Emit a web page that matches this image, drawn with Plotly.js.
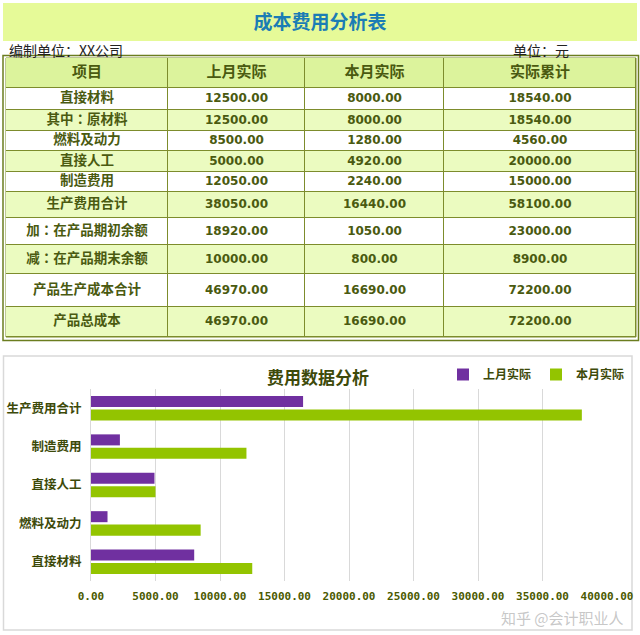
<!DOCTYPE html>
<html><head><meta charset="utf-8">
<script src="https://cdn.plot.ly/plotly-3.0.1.min.js"></script>
<style>html,body{margin:0;padding:0;background:#fff}</style>
</head><body><div id="chart" style="width:640px;height:635px"></div>
<script>
// ---------- data ----------
const tableTitle = '成本费用分析表';
const preparedBy = '编制单位：XX公司';
const unitLabel = '单位：元';
const headers = ['项目', '上月实际', '本月实际', '实际累计'];
const items = ['直接材料', '其中：原材料', '燃料及动力', '直接人工', '制造费用', '生产费用合计',
  '加：在产品期初余额', '减：在产品期末余额', '产品生产成本合计', '产品总成本'];
const lastMonth = [12500, 12500, 8500, 5000, 12050, 38050, 18920, 10000, 46970, 46970];
const thisMonth = [8000, 8000, 1280, 4920, 2240, 16440, 1050, 800, 16690, 16690];
const cumulative = [18540, 18540, 4560, 20000, 15000, 58100, 23000, 8900, 72200, 72200];

const chartTitle = '费用数据分析';
const chartItems = ['直接材料', '燃料及动力', '直接人工', '制造费用', '生产费用合计'];
const seriesNames = ['上月实际', '本月实际'];
const xTicks = [0, 5000, 10000, 15000, 20000, 25000, 30000, 35000, 40000];
const watermark = '知乎 @会计职业人';

// ---------- layout helpers ----------
const W = 640, H = 635;
const px = x => x / W;
const py = y => 1 - y / H;
const rowEdges = [58, 88, 110, 131, 151, 172, 192, 218, 245, 274, 307, 337];
const colEdges = [6, 168, 305, 444, 636];
const textColor = '#4a5a10';
const lineColor = '#7d8c2c';
const lightFill = '#ebfbc0';
const headerFill = '#dcf39c';
const fmt = v => v.toFixed(2);
const b = s => '<b>' + s + '</b>';

// table contents (header row + body rows)
const tableRows = [headers].concat(items.map((n, i) => [n, fmt(lastMonth[i]), fmt(thisMonth[i]), fmt(cumulative[i])]));
// fill style per row: 0 header, 1 white, 2 light green
const fillIndex = tableRows.map((r, i) => i === 0 ? 0 : (i % 2 === 1 ? 1 : 2));

const traces = [];
// cell backgrounds
traces.push({
  type: 'heatmap', xaxis: 'x2', yaxis: 'y2',
  x: colEdges, y: rowEdges,
  z: fillIndex.map(v => colEdges.slice(1).map(() => v)),
  zmin: 0, zmax: 2, showscale: false, xgap: 1, ygap: 1,
  colorscale: [[0, headerFill], [0.5, '#ffffff'], [1, lightFill]],
  hoverinfo: 'skip'
});
// cell texts
const cx = [], cy = [], ct = [], cf = [], cs = [];
tableRows.forEach((row, r) => {
  row.forEach((val, c) => {
    cx.push((colEdges[c] + colEdges[c + 1]) / 2);
    cy.push((rowEdges[r] + rowEdges[r + 1]) / 2);
    ct.push(b(val));
    const cjk = r === 0 || c === 0;
    // centred full-width colon as in the reference
    cf.push(cjk ? (val.indexOf('：') >= 0 ? 'Noto Sans CJK TC' : 'Noto Sans CJK SC') : 'DejaVu Sans');
    cs.push(r === 0 ? 15 : (c === 0 ? 13.5 : 12));
  });
});
traces.push({
  type: 'scatter', mode: 'text', xaxis: 'x2', yaxis: 'y2',
  x: cx, y: cy, text: ct, textposition: 'middle center', cliponaxis: false,
  textfont: {family: cf, size: cs, color: textColor},
  showlegend: false, hoverinfo: 'skip'
});

// chart series (as drawn in the reference: purple "上月实际" bars, green "本月实际" bars)
const idx = chartItems.map(n => items.indexOf(n));
traces.push({
  type: 'bar', orientation: 'h', name: seriesNames[1], legendrank: 2,
  y: chartItems, x: idx.map(i => lastMonth[i]),
  marker: {color: '#93c400'}, xaxis: 'x', yaxis: 'y'
});
traces.push({
  type: 'bar', orientation: 'h', name: seriesNames[0], legendrank: 1,
  y: chartItems, x: idx.map(i => thisMonth[i]),
  marker: {color: '#7030a0'}, xaxis: 'x', yaxis: 'y'
});

const layout = {
  width: W, height: H,
  margin: {l: 0, r: 0, t: 0, b: 0},
  paper_bgcolor: '#ffffff', plot_bgcolor: 'rgba(0,0,0,0)',
  title: {text: b(tableTitle), x: 0.5, xanchor: 'center', y: py(22), yanchor: 'middle', yref: 'container',
    font: {family: 'Noto Sans CJK SC', size: 19, color: '#1b7db5'}},
  barmode: 'group', bargap: 0.3, bargroupgap: 0.18,
  showlegend: true,
  legend: {orientation: 'h', x: px(630), xanchor: 'right', y: py(360), yanchor: 'top',
    font: {family: 'Noto Sans CJK SC', size: 12, color: '#3d4a0a', weight: 'bold'},
    bgcolor: 'rgba(0,0,0,0)', itemwidth: 30, traceorder: 'normal'},
  xaxis: {domain: [px(91), px(607)], range: [0, 40000], tickvals: xTicks, tickformat: '.2f',
    showgrid: true, gridcolor: '#d9d9d9', zeroline: false, showline: false, ticks: '',
    ticklabelstandoff: 7, fixedrange: true, anchor: 'y',
    tickfont: {family: 'DejaVu Sans Mono', size: 11, color: '#4b5a00', weight: 'bold'}},
  yaxis: {domain: [py(581), py(389)], type: 'category', categoryorder: 'array', categoryarray: chartItems,
    showline: true, linecolor: '#d9d9d9', showgrid: false, ticks: '', ticklabelstandoff: 6, fixedrange: true,
    anchor: 'x',
    tickfont: {family: 'Noto Sans CJK SC', size: 12.5, color: '#3d4a0a', weight: 'bold'}},
  xaxis2: {domain: [0, 1], range: [0, W], visible: false, fixedrange: true, anchor: 'y2'},
  yaxis2: {domain: [0, 1], range: [H, 0], visible: false, fixedrange: true, anchor: 'x2'},
  shapes: [
    {type: 'rect', xref: 'paper', yref: 'paper', x0: px(3), x1: px(637), y0: py(41), y1: py(3),
      fillcolor: '#e6fa98', line: {width: 0}, layer: 'below'},
    {type: 'rect', xref: 'paper', yref: 'paper', x0: px(colEdges[0]), x1: px(colEdges[4]),
      y0: py(rowEdges[11]), y1: py(rowEdges[0]),
      fillcolor: lineColor, line: {color: lineColor, width: 1}, layer: 'below'},
    {type: 'rect', xref: 'paper', yref: 'paper', x0: px(3), x1: px(638.5), y0: py(340.5), y1: py(55.5),
      fillcolor: 'rgba(0,0,0,0)', line: {color: '#6b7d1f', width: 1.5}},
    {type: 'rect', xref: 'paper', yref: 'paper', x0: px(3.5), x1: px(632), y0: py(630), y1: py(356),
      fillcolor: 'rgba(0,0,0,0)', line: {color: '#d9d9d9', width: 1.5}, layer: 'below'}
  ],
  annotations: [
    {text: preparedBy, xref: 'paper', yref: 'paper', x: px(7), xanchor: 'left', y: py(50), yanchor: 'middle',
      showarrow: false, font: {family: 'Noto Sans CJK SC', size: 14, color: '#222222'}},
    {text: unitLabel, xref: 'paper', yref: 'paper', x: px(511), xanchor: 'left', y: py(50), yanchor: 'middle',
      showarrow: false, font: {family: 'Noto Sans CJK SC', size: 14, color: '#222222'}},
    {text: b(chartTitle), xref: 'paper', yref: 'paper', x: px(318), xanchor: 'center', y: py(376), yanchor: 'middle',
      showarrow: false, font: {family: 'Noto Sans CJK SC', size: 17, color: '#3d4a0a'}},
    {text: watermark, xref: 'paper', yref: 'paper', x: px(626), xanchor: 'right', y: py(617), yanchor: 'middle',
      showarrow: false, font: {family: 'Noto Sans CJK SC', size: 15, color: 'rgba(185,185,185,0.8)'}}
  ]
};

Plotly.newPlot('chart', traces, layout, {displayModeBar: false, staticPlot: true});
</script>
</body></html>
